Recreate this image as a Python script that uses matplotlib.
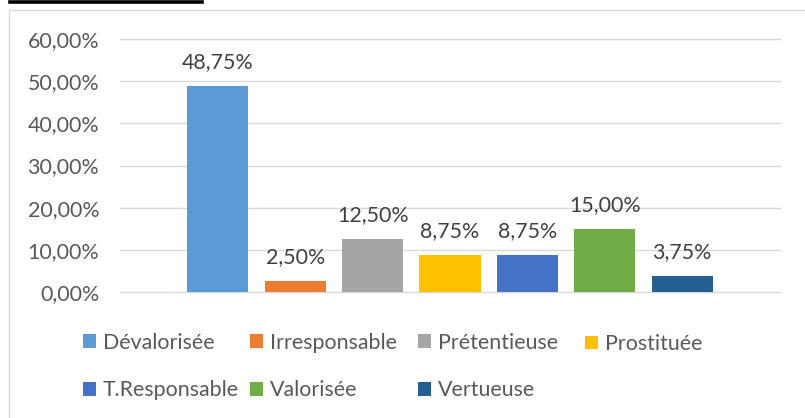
import matplotlib
matplotlib.use("Agg")
import matplotlib.pyplot as plt
from matplotlib.patches import Rectangle, Patch
from matplotlib.lines import Line2D
from matplotlib.ticker import FuncFormatter

# data
categories = ["Dévalorisée", "Irresponsable", "Prétentieuse", "Prostituée",
              "T.Responsable", "Valorisée", "Vertueuse"]
values = [48.75, 2.50, 12.50, 8.75, 8.75, 15.00, 3.75]
colors = ["#5B9BD5", "#ED7D31", "#A5A5A5", "#FFC000", "#4472C4", "#70AD47", "#255E91"]
yticks = [0, 10, 20, 30, 40, 50, 60]


def pct(v):
    return f"{v:.2f}%".replace(".", ",")


W, H = 805, 418
FS = 15.4
plt.rcParams['font.family'] = ['Lato', 'DejaVu Sans']

fig = plt.figure(figsize=(W / 100, H / 100), dpi=100)
ax = fig.add_axes([120 / W, 1 - 292 / H, 660 / W, (292 - 39) / H])

x = list(range(len(values)))
bars = ax.bar(x, values, width=0.79, color=colors, zorder=3)
for b, v in zip(bars, values):
    ax.annotate(pct(v), (b.get_x() + b.get_width() / 2, v), xytext=(0, 10),
                textcoords='offset points', ha='center', va='bottom',
                fontsize=FS, color='#404040')

ax.set_xlim(-1.265, len(values) - 1 + 1.265)
ax.set_ylim(0, 60)
ax.set_yticks(yticks)
ax.yaxis.set_major_formatter(FuncFormatter(lambda v, p: pct(v)))
ax.tick_params(axis='y', length=0, pad=15, labelsize=FS, labelcolor='#595959')
ax.set_xticks([])
ax.grid(axis='y', color='#d9d9d9', linewidth=1)
for gl in ax.yaxis.get_gridlines():
    gl.set_clip_on(False)
ax.set_axisbelow(True)
for s in ax.spines.values():
    s.set_visible(False)

# legend: 4 equal-width columns, one small legend per column
col_x = [83, 250, 418, 585]
for j, cx in enumerate(col_x):
    idx = [i for i in (j, j + 4) if i < len(categories)]
    handles = [Patch(facecolor=colors[i], edgecolor='none') for i in idx]
    labels = [categories[i] for i in idx]
    cy = 366.5 if len(idx) == 2 else 344
    fig.legend(handles, labels, loc='center left',
               bbox_to_anchor=(cx / W, 1 - cy / H), frameon=False,
               fontsize=FS, handlelength=0.61, handleheight=0.61,
               handletextpad=0.33, labelspacing=1.3, borderpad=0,
               borderaxespad=0, labelcolor='#595959')

# chart frame and caption underline
fig.add_artist(Rectangle((9 / W, -0.05), 1.0, 1 - 10 / H + 0.05,
                         transform=fig.transFigure, fill=False,
                         edgecolor='#d9d9d9', linewidth=1))
fig.add_artist(Line2D([10 / W, 202 / W], [1 - 2 / H, 1 - 2 / H],
                      transform=fig.transFigure, color='black', linewidth=2.6))

fig.savefig("out.png", dpi=100)
